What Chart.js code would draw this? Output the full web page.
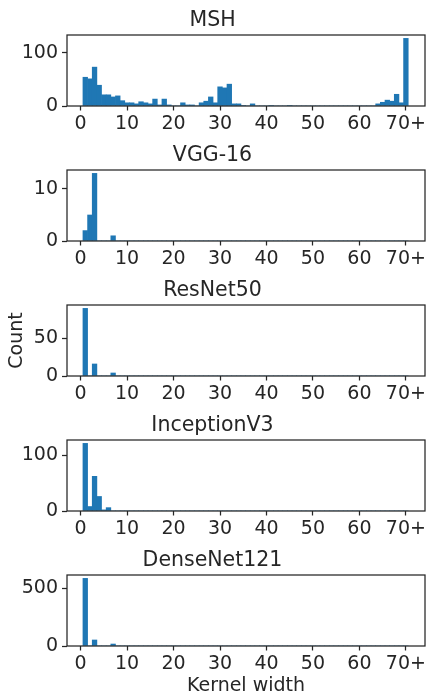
<!DOCTYPE html>
<html>
<head>
<meta charset="utf-8">
<script src="https://cdn.jsdelivr.net/npm/chart.js@4"></script>
<style>
  body { margin: 0; background: #fff; overflow: hidden; }
  canvas { position: absolute; left: 0; }
</style>
</head>
<body>
<canvas id="c0" width="427" height="135" style="top:0px"></canvas>
<canvas id="c1" width="427" height="135" style="top:135px"></canvas>
<canvas id="c2" width="427" height="135" style="top:270px"></canvas>
<canvas id="c3" width="427" height="135" style="top:405px"></canvas>
<canvas id="c4" width="427" height="160" style="top:540px"></canvas>
<script>
// data
const titles = ['MSH', 'VGG-16', 'ResNet50', 'InceptionV3', 'DenseNet121'];
const kernelWidths = Array.from({length: 70}, (_, i) => i + 1); // 70 = "70+"

const msh = [54, 51, 73, 39, 21, 21, 17, 19, 10, 6,
             6, 4, 8, 6, 4, 13, 2, 13, 2, 0,
             0, 6, 2, 2, 0, 6, 9, 17, 6, 36,
             34, 41, 4, 4, 1, 0, 4, 0, 0, 0,
             1, 0, 0, 0, 1, 0, 0, 0, 0, 0,
             0, 0, 0, 0, 0, 0, 0, 0, 0, 0,
             0, 0, 0, 4, 7, 11, 9, 22, 6, 127];
const vgg16 = [2, 5, 13, 0, 0, 0, 1];
const resnet50 = [90, 0, 16, 0, 0, 0, 4];
const inceptionV3 = [121, 8, 62, 26, 2, 6];
const densenet121 = [585, 0, 52, 0, 0, 0, 17];
const series = [msh, vgg16, resnet50, inceptionV3, densenet121];

const xTicks = [0, 10, 20, 30, 40, 50, 60, 70];
const yTicks = [[0, 100], [0, 10], [0, 50], [0, 100], [0, 500]];

const ink = '#262626';
const blue = '#1f77b4';
const family = "'DejaVu Sans', sans-serif";

// top + right spines (box like matplotlib)
const spines = {
  id: 'spines',
  afterDatasetsDraw(chart) {
    const a = chart.chartArea, ctx = chart.ctx;
    ctx.save();
    ctx.strokeStyle = ink;
    ctx.lineWidth = 1.25;
    ctx.strokeRect(a.left, a.top, a.right - a.left, a.bottom - a.top);
    ctx.restore();
  }
};

series.forEach(function (vals, i) {
  const counts = kernelWidths.map((k, j) => vals[j] || 0);
  const last = i === 4;

  new Chart(document.getElementById('c' + i).getContext('2d'), {
    type: 'bar',
    data: {
      labels: kernelWidths,
      datasets: [{
        data: counts,
        backgroundColor: blue,
        borderWidth: 0,
        barPercentage: 1,
        categoryPercentage: 1
      }]
    },
    options: {
      responsive: false,
      animation: false,
      devicePixelRatio: 1,
      layout: { padding: { left: 0, right: 2, top: 0, bottom: 0 } },
      plugins: {
        legend: { display: false },
        tooltip: { enabled: false },
        title: {
          display: true,
          text: titles[i],
          color: ink,
          font: { family: family, size: 20.5, weight: 'normal' },
          padding: { top: 8.2, bottom: 2.2 }
        }
      },
      scales: {
        x: {
          type: 'linear',
          min: -2.93,
          max: 74.11,
          offset: false,
          afterBuildTicks: s => { s.ticks = xTicks.map(v => ({ value: v })); },
          afterFit: s => {
            s.height = last ? 54 : 29;
            s.paddingLeft = 0;
            s.paddingRight = 0;
          },
          ticks: {
            color: ink,
            font: { family: family, size: 19 },
            padding: 2,
            maxRotation: 0,
            autoSkip: false,
            callback: v => (v === 70 ? '70+' : String(v))
          },
          grid: {
            offset: false,
            drawOnChartArea: false,
            drawTicks: true,
            tickLength: 4.5,
            tickWidth: 1.25,
            tickColor: ink
          },
          border: { display: false },
          title: {
            display: last,
            text: 'Kernel width',
            color: ink,
            font: { family: family, size: 19 },
            padding: { top: 0, bottom: 2.4 }
          }
        },
        y: {
          min: 0,
          max: Math.max(...vals) * 1.05,
          afterBuildTicks: s => { s.ticks = yTicks[i].map(v => ({ value: v })); },
          afterFit: s => {
            s.width = 67;
            s.paddingTop = 0;
            s.paddingBottom = 0;
          },
          ticks: {
            color: ink,
            font: { family: family, size: 19 },
            padding: 4
          },
          grid: {
            drawOnChartArea: false,
            drawTicks: true,
            tickLength: 5,
            tickWidth: 1.25,
            tickColor: ink
          },
          border: { display: false },
          title: {
            display: i === 2,
            text: 'Count',
            color: ink,
            font: { family: family, size: 19 },
            padding: { top: 5.6, bottom: 0 }
          }
        }
      }
    },
    plugins: [spines]
  });
});
</script>
</body>
</html>
